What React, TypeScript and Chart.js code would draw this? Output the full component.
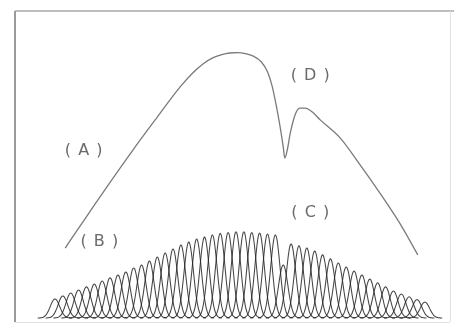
import React, { useEffect, useRef } from "react";
import { Chart, registerables } from "chart.js";

Chart.register(...registerables);

// Component amplitudes (B), one per evenly spaced channel index 0..47
const componentAmplitudes = [
  6.1, 7.1, 8.0, 9.0, 10.0, 10.9, 11.9, 12.9, 13.8, 14.8, 16.1, 17.0,
  18.3, 19.6, 20.9, 22.2, 23.5, 24.4, 25.4, 26.0, 26.7, 27.2, 27.5, 27.7,
  27.7, 27.5, 27.3, 27.0, 26.7, 17.0, 23.8, 23.2, 22.5, 21.5, 20.3, 19.0,
  17.7, 16.4, 15.1, 13.8, 12.5, 11.3, 10.0, 8.7, 7.7, 6.8, 5.9, 5.1,
];
const componentSigma = 0.6;

// Envelope curve (A): channel position and value
const curveX = [
  1.3, 5.7, 9.9, 13.0, 15.9, 17.5, 18.8, 20.1, 21.2, 22.2, 23.2, 24.2,
  25.2, 26.2, 27.0, 27.6, 28.1, 28.6, 29.0, 29.2, 29.5, 29.9, 30.5, 31.1,
  31.8, 32.7, 33.7, 36.2, 38.7, 41.2, 43.8, 46.1,
];
const curveY = [
  22.5, 38.9, 54.0, 64.6, 74.3, 78.8, 81.7, 83.7, 84.7, 85.2, 85.3, 85.0,
  84.2, 82.4, 79.2, 74.5, 68.5, 61.5, 55.0, 51.4, 53.8, 59.5, 65.3, 67.5,
  67.5, 66.2, 63.7, 58.0, 49.5, 40.5, 30.5, 20.3,
];

// Annotation labels
const labelTexts = ["( A )", "( B )", "( C )", "( D )"];
const labelX = [3.7, 5.7, 32.5, 32.5];
const labelY = [53.7, 24.4, 33.8, 77.8];

const frameLabelsPlugin = {
  id: "frameLabels",
  afterDraw(chart: any) {
    const { ctx, chartArea, scales } = chart;
    const { left, right, top, bottom } = chartArea;
    ctx.save();
    ctx.strokeStyle = "#9a9a9a";
    ctx.lineWidth = 2;
    ctx.beginPath();
    ctx.moveTo(left, bottom);
    ctx.lineTo(left, top);
    ctx.stroke();
    ctx.strokeStyle = "#a8a8a8";
    ctx.lineWidth = 1.5;
    ctx.beginPath();
    ctx.moveTo(left, top);
    ctx.lineTo(chart.width, top);
    ctx.stroke();
    ctx.strokeStyle = "#e2e2e2";
    ctx.lineWidth = 1;
    ctx.beginPath();
    ctx.moveTo(right + 0.5, top);
    ctx.lineTo(right + 0.5, bottom);
    ctx.moveTo(left, bottom + 0.5);
    ctx.lineTo(right, bottom + 0.5);
    ctx.stroke();
    ctx.fillStyle = "#6a6a6a";
    ctx.font = "16px 'DejaVu Sans'";
    (ctx as any).letterSpacing = "1px";
    ctx.textAlign = "center";
    ctx.textBaseline = "middle";
    labelTexts.forEach((t, i) => {
      ctx.fillText(t, scales.x.getPixelForValue(labelX[i]), scales.y.getPixelForValue(labelY[i]));
    });
    ctx.restore();
  },
};

export default function App() {
  const ref = useRef<HTMLCanvasElement | null>(null);
  useEffect(() => {
    if (!ref.current) return;
    const datasets: any[] = [];
    componentAmplitudes.forEach((a, k) => {
      const pts: { x: number; y: number }[] = [];
      for (let i = -22; i <= 22; i++) {
        const dx = i * 0.1;
        pts.push({ x: k + dx, y: a * Math.exp(-(dx * dx) / (2 * componentSigma * componentSigma)) });
      }
      datasets.push({
        data: pts,
        borderColor: "rgba(35,35,35,0.85)",
        borderWidth: 1.05,
        pointRadius: 0,
        tension: 0.3,
        fill: false,
      });
    });
    datasets.push({
      data: curveX.map((x, i) => ({ x, y: curveY[i] })),
      borderColor: "#7a7a7a",
      borderWidth: 1.3,
      pointRadius: 0,
      cubicInterpolationMode: "monotone",
      fill: false,
    });
    const chart = new Chart(ref.current, {
      type: "line",
      data: { datasets },
      options: {
        animation: false,
        responsive: true,
        maintainAspectRatio: false,
        layout: { padding: { left: 15, right: 4, top: 11, bottom: 5 } },
        plugins: { legend: { display: false }, tooltip: { enabled: false } },
        scales: {
          x: { type: "linear", min: -5.08, max: 50.19, display: false },
          y: { type: "linear", min: -1.29, max: 98.71, display: false },
        },
      },
      plugins: [frameLabelsPlugin],
    });
    return () => chart.destroy();
  }, []);
  return (
    <div style={{ position: "fixed", left: 0, top: 0, width: 454, height: 327, background: "#fff" }}>
      <canvas ref={ref} />
    </div>
  );
}
